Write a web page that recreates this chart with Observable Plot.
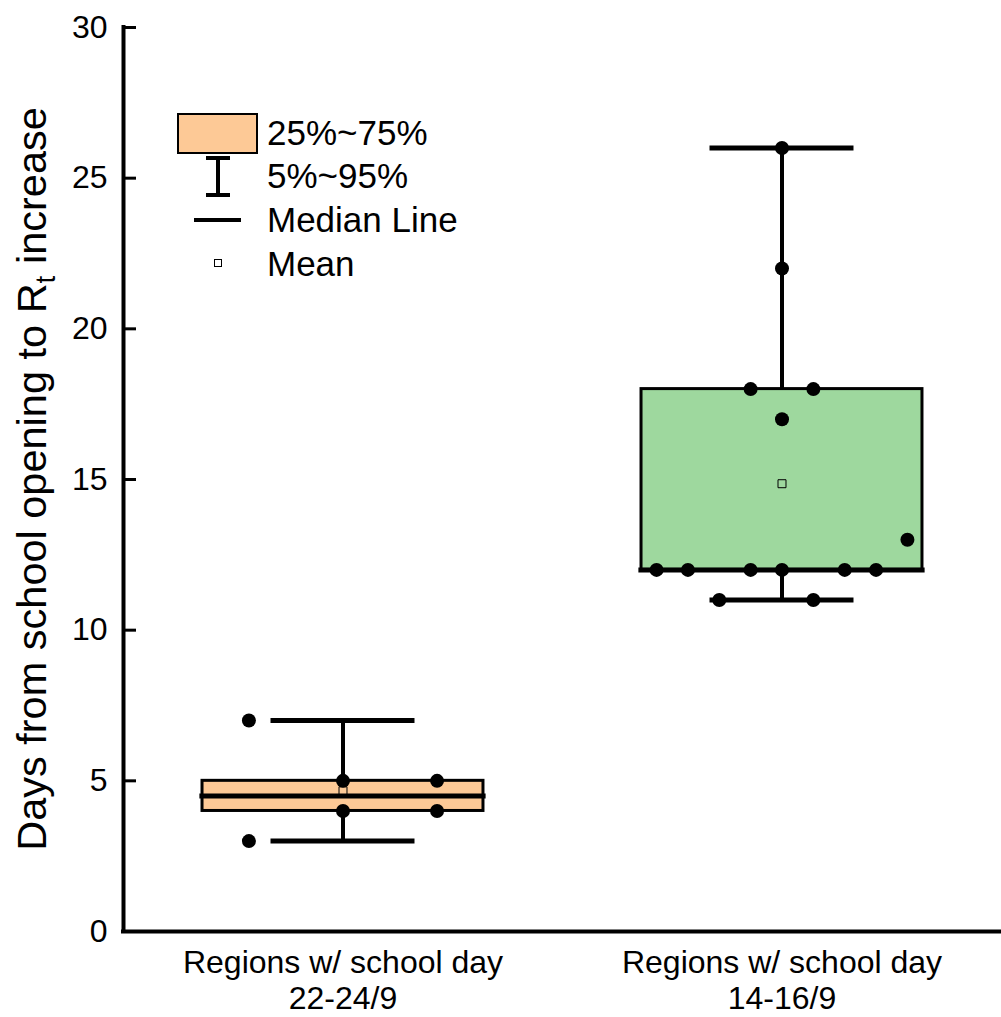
<!DOCTYPE html>
<html><head><meta charset="utf-8">
<script src="https://cdn.jsdelivr.net/npm/d3@7"></script>
<script src="https://cdn.jsdelivr.net/npm/@observablehq/plot@0.6"></script>
<style>body{margin:0;background:#fff;} #chart{position:relative;width:1001px;height:1017px;}</style>
</head><body><div id="chart"></div>
<script>
// ---- data ----
const categories = ["Regions w/ school day\n22-24/9", "Regions w/ school day\n14-16/9"];
const groupPos = [1, 2];
const boxColors = ["#FDC996", "#9ED89E"];
const q1 = [4, 12];
const median = [4.5, 12];
const q3 = [5, 18];
const p5 = [3, 11];
const p95 = [7, 26];
const means = [4.67, 14.86];
const pointGroup = [0,0,0,0,0,0, 1,1,1,1,1,1,1,1,1,1,1,1,1,1];
const pointSlot  = [-3,0,0,3,3,-3, 0,0,-1,1,0,4,-4,-3,-1,0,2,3,-2,1];
const pointValue = [7,5,4,5,4,3, 26,22,18,18,17,13,12,12,12,12,12,12,11,11];
const yTicks = [0,5,10,15,20,25,30];
const legendLabels = ["25%~75%", "5%~95%", "Median Line", "Mean"];
const yTitle = ["Days from school opening to R", "t", " increase"];

// ---- layout constants ----
const SLOT = 1/14, BOX_HALF = 0.32, CAP_HALF = 0.164;
const FONT = "'Liberation Sans', Arial, Helvetica, sans-serif";

const boxes = groupPos.map((g,i)=>({g, q1:q1[i], med:median[i], q3:q3[i], lo:p5[i], hi:p95[i], mean:means[i], color:boxColors[i]}));
const points = pointValue.map((v,k)=>({x: groupPos[pointGroup[k]] + pointSlot[k]*SLOT, y: v}));

const plot = Plot.plot({
  width: 1001, height: 1017,
  marginLeft: 123, marginRight: 0, marginTop: 27, marginBottom: 86,
  style: {fontFamily: FONT, background: "white", color: "black"},
  x: {type: "linear", domain: [0.5, 2.5]},
  y: {domain: [0, 30]},
  color: {type: "identity"},
  marks: [
    Plot.rect(boxes, {x1: d=>d.g-BOX_HALF, x2: d=>d.g+BOX_HALF, y1: "q1", y2: "q3", fill: "color", stroke: "black", strokeWidth: 3}),
    Plot.ruleX(boxes, {x: "g", y1: "q3", y2: "hi", stroke: "black", strokeWidth: 4}),
    Plot.ruleX(boxes, {x: "g", y1: "lo", y2: "q1", stroke: "black", strokeWidth: 4}),
    Plot.ruleY(boxes, {y: "hi", x1: d=>d.g-CAP_HALF, x2: d=>d.g+CAP_HALF, stroke: "black", strokeWidth: 5}),
    Plot.ruleY(boxes, {y: "lo", x1: d=>d.g-CAP_HALF, x2: d=>d.g+CAP_HALF, stroke: "black", strokeWidth: 5}),
    Plot.ruleY(boxes, {y: "med", x1: d=>d.g-BOX_HALF-0.006, x2: d=>d.g+BOX_HALF+0.006, stroke: "black", strokeWidth: 5}),
    Plot.dot(boxes, {x: "g", y: "mean", symbol: "square", r: 4.5, stroke: "black", strokeWidth: 1, fill: "none"}),
    Plot.dot(points, {x: "x", y: "y", r: 7, fill: "black", stroke: "none"}),
    Plot.ruleY([0], {stroke: "black", strokeWidth: 4, strokeLinecap: "square"}),
    Plot.ruleX([0.5], {stroke: "black", strokeWidth: 4, strokeLinecap: "square"}),
    Plot.axisY({ticks: yTicks, tickSize: -13, strokeWidth: 3, tickFormat: () => "", label: null}),
    Plot.axisY({ticks: yTicks, tickSize: 0, tickPadding: 16, fontSize: 32, label: null}),
    Plot.axisX({ticks: groupPos, tickSize: 0, tickPadding: 16, fontSize: 32, lineHeight: 1.12, label: null,
      tickFormat: d => categories[groupPos.indexOf(d)]})
  ]
});
document.getElementById("chart").appendChild(plot);

const svg = d3.select(plot);
// y-axis title with subscript
const t = svg.append("text")
  .attr("transform", "translate(46,479) rotate(-90)")
  .attr("text-anchor", "middle")
  .style("font-family", FONT).style("font-size", "41.5px").attr("fill", "black");
t.append("tspan").text(yTitle[0]);
t.append("tspan").text(yTitle[1]).style("font-size", "28px").attr("dy", "9");
t.append("tspan").text(yTitle[2]).attr("dy", "-9");

// legend
const lg = svg.append("g").style("font-family", FONT).style("font-size", "35px").attr("text-anchor", "start");
lg.append("rect").attr("x", 178).attr("y", 114).attr("width", 79).attr("height", 39)
  .attr("fill", boxColors[0]).attr("stroke", "black").attr("stroke-width", 2);
lg.append("line").attr("x1", 218).attr("x2", 218).attr("y1", 158).attr("y2", 195).attr("stroke", "black").attr("stroke-width", 4);
lg.append("line").attr("x1", 206).attr("x2", 230).attr("y1", 158).attr("y2", 158).attr("stroke", "black").attr("stroke-width", 4);
lg.append("line").attr("x1", 206).attr("x2", 230).attr("y1", 195).attr("y2", 195).attr("stroke", "black").attr("stroke-width", 4);
lg.append("line").attr("x1", 194).attr("x2", 241).attr("y1", 220).attr("y2", 220).attr("stroke", "black").attr("stroke-width", 4);
lg.append("rect").attr("x", 214.5).attr("y", 259.5).attr("width", 7).attr("height", 7).attr("fill", "white").attr("stroke", "black").attr("stroke-width", 1);
const ly = [145, 188, 232, 276];
legendLabels.forEach((s, i) => lg.append("text").attr("x", 267).attr("y", ly[i]).attr("text-anchor", "start").attr("fill", "black").text(s));
</script>
</body></html>
